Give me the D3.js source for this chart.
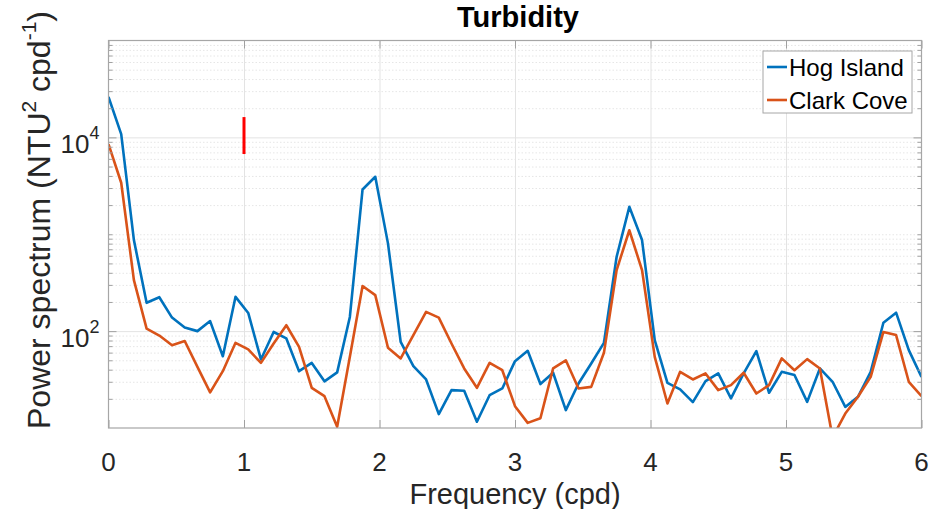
<!DOCTYPE html>
<html>
<head>
<meta charset="utf-8">
<script src="https://cdn.jsdelivr.net/npm/d3@7"></script>
<style>
  body { margin: 0; background: #fff; }
  svg { display: block; font-family: "Liberation Sans", Arial, Helvetica, sans-serif; }
  .grid line { stroke: #e3e3e3; stroke-width: 1; }
  .grid path { display: none; }
  .minor-grid line { stroke: #e6e6e6; stroke-width: 1; stroke-dasharray: 1.5,2; }
  .minor-grid path { display: none; }
  .tick-axis path { display: none; }
  .tick-axis line { stroke: #a0a0a0; }
</style>
</head>
<body>
<div id="chart"></div>
<script>
// Turbidity power spectrum, Hog Island vs Clark Cove

// frequency (cpd)
const freq = [
  0, 0.09375, 0.1875, 0.28125, 0.375, 0.46875, 0.5625, 0.65625, 0.75, 0.84375,
  0.9375, 1.03125, 1.125, 1.21875, 1.3125, 1.40625, 1.5, 1.59375, 1.6875, 1.78125,
  1.875, 1.96875, 2.0625, 2.15625, 2.25, 2.34375, 2.4375, 2.53125, 2.625, 2.71875,
  2.8125, 2.90625, 3, 3.09375, 3.1875, 3.28125, 3.375, 3.46875, 3.5625, 3.65625,
  3.75, 3.84375, 3.9375, 4.03125, 4.125, 4.21875, 4.3125, 4.40625, 4.5, 4.59375,
  4.6875, 4.78125, 4.875, 4.96875, 5.0625, 5.15625, 5.25, 5.34375, 5.4375, 5.53125,
  5.625, 5.71875, 5.8125, 5.90625, 6
];

// power spectrum (NTU^2 cpd^-1)
const hogIsland = [
  26200, 10800, 870, 196, 224, 138, 109, 100, 127, 55,
  226, 154, 51, 98, 84, 38.6, 47, 30.3, 37.5, 140,
  2900, 3920, 805, 77.6, 43.5, 31.7, 13.9, 24.6, 24.2, 11.6,
  21.8, 25.6, 49, 62.7, 28.4, 37.2, 15.3, 28.8, 46.4, 75.7,
  585, 1920, 871, 80.8, 29.2, 25, 18.5, 30.5, 36.6, 20.2,
  36.6, 62.2, 23.1, 38, 35.2, 18.6, 41.2, 30, 16.5, 21,
  38, 122, 155, 63.6, 33.7
];

const clarkCove = [
  8530, 3400, 336, 106, 90, 71.6, 79, 42.8, 23.3, 38.6,
  75.7, 64.7, 47, 74.6, 115, 68.9, 26, 21.3, 10.3, 54.3,
  292, 235, 67.3, 52.3, 91, 158, 138, 74.6, 41.2, 26,
  47.1, 39.5, 16.8, 11.3, 12.6, 41.2, 50, 25.6, 26.6, 59.7,
  427, 1100, 427, 54.3, 17.9, 38, 31.7, 36.6, 24.6, 27.7,
  37.2, 22.7, 27.7, 52.3, 39.5, 51.4, 41.2, 8, 14.1, 21,
  33.7, 98, 91, 30, 21.3
];

// confidence bar at 1 cpd
const ciFreq = [1];
const ciLow = [6730];
const ciHigh = [16200];

const seriesNames = ['Hog Island', 'Clark Cove'];
const seriesColors = ['#0072BD', '#D95319'];

const xTicks = [0, 1, 2, 3, 4, 5, 6];
const yMajor = [100, 10000];
const yExp = ['2', '4'];

// layout
const W = 942, H = 509;
const margin = {top: 40.5, right: 20.5, bottom: 81, left: 108.5};
const width = W - margin.left - margin.right;
const height = H - margin.top - margin.bottom;

const svg = d3.select('#chart').append('svg')
    .attr('width', W)
    .attr('height', H);

const g = svg.append('g')
    .attr('transform', `translate(${margin.left},${margin.top})`);

const x = d3.scaleLinear().domain([0, 6]).range([0, width]);
const y = d3.scaleLog().domain([10, 100000]).range([height, 0]);

// minor values 2..9 x 10^k, plus 10^3
const yMinor = [];
[10, 100, 1000, 10000].forEach(d => {
    for (let m = 1; m <= 9; m++) {
        const v = m * d;
        if (v !== 100 && v !== 10000 && v > 10) yMinor.push(v);
    }
});

// grid
g.append('g').attr('class', 'minor-grid')
    .call(d3.axisLeft(y).tickValues(yMinor).tickSize(-width).tickFormat(''));
g.append('g').attr('class', 'grid')
    .call(d3.axisLeft(y).tickValues(yMajor).tickSize(-width).tickFormat(''));
g.append('g').attr('class', 'grid')
    .attr('transform', `translate(0,${height})`)
    .call(d3.axisBottom(x).tickValues([1, 2, 3, 4, 5]).tickSize(height).tickFormat(''))
    .selectAll('line').attr('y2', -height);

// lines
g.append('clipPath').attr('id', 'clip')
    .append('rect').attr('width', width).attr('height', height);

const line = d3.line()
    .x((d, i) => x(freq[i]))
    .y(d => y(d));

[hogIsland, clarkCove].forEach((s, i) => {
    g.append('path')
        .datum(s)
        .attr('clip-path', 'url(#clip)')
        .attr('d', line)
        .attr('fill', 'none')
        .attr('stroke', seriesColors[i])
        .attr('stroke-width', 2.6)
        .attr('stroke-linejoin', 'round');
});

// red bar
g.selectAll('.ci')
    .data(ciFreq)
    .enter().append('line')
    .attr('x1', d => x(d)).attr('x2', d => x(d))
    .attr('y1', (d, i) => y(ciLow[i]))
    .attr('y2', (d, i) => y(ciHigh[i]))
    .attr('stroke', '#ff0000')
    .attr('stroke-width', 3);

// axis ticks, pointing inward
g.append('g').attr('class', 'tick-axis')
    .attr('transform', `translate(0,${height})`)
    .call(d3.axisBottom(x).tickValues(xTicks).tickSize(-8).tickFormat(''));
g.append('g').attr('class', 'tick-axis')
    .call(d3.axisTop(x).tickValues(xTicks).tickSize(-8).tickFormat(''));
g.append('g').attr('class', 'tick-axis')
    .call(d3.axisLeft(y).tickValues(yMajor).tickSize(-8).tickFormat(''));
g.append('g').attr('class', 'tick-axis')
    .call(d3.axisLeft(y).tickValues(yMinor).tickSize(-4).tickFormat(''));
g.append('g').attr('class', 'tick-axis')
    .attr('transform', `translate(${width},0)`)
    .call(d3.axisRight(y).tickValues(yMajor).tickSize(-8).tickFormat(''));
g.append('g').attr('class', 'tick-axis')
    .attr('transform', `translate(${width},0)`)
    .call(d3.axisRight(y).tickValues(yMinor).tickSize(-4).tickFormat(''));

// frame
g.append('rect')
    .attr('width', width).attr('height', height)
    .attr('fill', 'none')
    .attr('stroke', '#a6a6a6')
    .attr('stroke-width', 1.2);

// tick labels
g.selectAll('.xlab')
    .data(xTicks)
    .enter().append('text')
    .attr('x', d => x(d))
    .attr('y', height + 43)
    .attr('text-anchor', 'middle')
    .attr('font-size', 26)
    .attr('fill', '#262626')
    .text(d => d);

const ylab = g.selectAll('.ylab')
    .data(yMajor)
    .enter().append('text')
    .attr('x', -9)
    .attr('y', d => y(d) + 16)
    .attr('text-anchor', 'end')
    .attr('font-size', 26)
    .attr('fill', '#262626');
ylab.append('tspan').text('10');
ylab.append('tspan')
    .attr('font-size', 18)
    .attr('dy', -14)
    .text((d, i) => yExp[i]);

// axis labels
svg.append('text')
    .attr('x', margin.left + width / 2)
    .attr('y', 504)
    .attr('text-anchor', 'middle')
    .attr('font-size', 29)
    .attr('fill', '#262626')
    .text('Frequency (cpd)');

const yt = svg.append('text')
    .attr('transform', 'translate(50,220) rotate(-90)')
    .attr('text-anchor', 'middle')
    .attr('font-size', 32)
    .attr('fill', '#262626');
yt.append('tspan').text('Power spectrum (NTU');
yt.append('tspan').attr('font-size', 21).attr('dy', -14).text('2');
yt.append('tspan').attr('dy', 14).text(' cpd');
yt.append('tspan').attr('font-size', 21).attr('dy', -14).text('-1');
yt.append('tspan').attr('dy', 14).text(')');

// title
svg.append('text')
    .attr('x', 518)
    .attr('y', 27)
    .attr('text-anchor', 'middle')
    .attr('font-size', 29)
    .attr('font-weight', 'bold')
    .attr('fill', '#000')
    .text('Turbidity');

// legend
const legend = svg.append('g').attr('transform', 'translate(763,51)');
legend.append('rect')
    .attr('width', 149).attr('height', 62)
    .attr('fill', '#fff')
    .attr('stroke', '#a6a6a6');
seriesNames.forEach((name, i) => {
    const ly = 16 + i * 33;
    legend.append('line')
        .attr('x1', 4).attr('x2', 24)
        .attr('y1', ly).attr('y2', ly)
        .attr('stroke', seriesColors[i])
        .attr('stroke-width', 2.6);
    legend.append('text')
        .attr('x', 26)
        .attr('y', ly + 8.5)
        .attr('font-size', 24)
        .attr('fill', '#000')
        .text(name);
});
</script>
</body>
</html>
